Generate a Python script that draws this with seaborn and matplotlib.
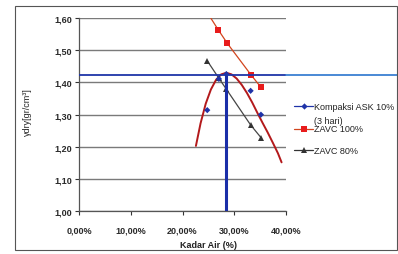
import matplotlib
matplotlib.use("Agg")
import matplotlib.pyplot as plt
import seaborn as sns
from matplotlib.lines import Line2D
from matplotlib.patches import Rectangle
from matplotlib.ticker import FuncFormatter

# data (kadar air in %, berat isi kering in gr/cm3)
ask_x = [24.8, 27.05, 28.5, 33.2, 35.2]
ask_y = [1.314, 1.411, 1.426, 1.374, 1.300]
zavc100_x = [24.8, 26.9, 28.7, 33.3, 35.2]
zavc100_y = [1.617, 1.564, 1.521, 1.423, 1.385]
zavc80_x = [24.8, 27.05, 28.5, 33.2, 35.2]
zavc80_y = [1.467, 1.413, 1.379, 1.268, 1.229]
# red compaction curve
kurva_x = [22.6, 23.5, 24.5, 25.5, 26.5, 27.5, 28.5, 29.5, 30.5, 31.5,
           32.5, 33.5, 34.5, 35.5, 36.5, 37.5, 38.5, 39.2]
kurva_y = [1.203, 1.273, 1.334, 1.378, 1.408, 1.425, 1.430, 1.425, 1.412,
           1.392, 1.367, 1.338, 1.306, 1.275, 1.245, 1.213, 1.180, 1.152]
w_opt = 28.4
gd_max = 1.423
x_ticks = [0, 10, 20, 30, 40]
y_ticks = [1.0, 1.1, 1.2, 1.3, 1.4, 1.5, 1.6]
labels = ["Kompaksi ASK 10%", "(3 hari)", "ZAVC 100%", "ZAVC 80%"]

sns.set_style("white")
plt.rcParams["font.family"] = ["Liberation Sans", "DejaVu Sans"]

W, H = 398, 255
fig = plt.figure(figsize=(W / 100, H / 100), dpi=100)
x0, x1, ytop, ybot = 79.3, 285.7, 19.0, 212.3
ax = fig.add_axes([x0 / W, 1 - ybot / H, (x1 - x0) / W, (ybot - ytop) / H])

ax.set_xlim(0, 40)
ax.set_ylim(1.0, 1.6)
ax.set_xticks(x_ticks)
ax.set_yticks(y_ticks)
ax.xaxis.set_major_formatter(FuncFormatter(lambda v, p: f"{v:.2f}%".replace(".", ",")))
ax.yaxis.set_major_formatter(FuncFormatter(lambda v, p: f"{v:.2f}".replace(".", ",")))
ax.tick_params(axis="both", labelsize=6.5, colors="#333333", length=3, width=0.8,
               direction="out", pad=2, bottom=True, left=True)
ax.tick_params(axis="x", pad=7)
for lbl in ax.get_xticklabels() + ax.get_yticklabels():
    lbl.set_fontweight("bold")
    lbl.set_color("#2a2a2a")
ax.yaxis.grid(True, color="#7a7a7a", lw=1.0)
ax.xaxis.grid(False)
for side in ["top", "right"]:
    ax.spines[side].set_visible(False)
for side in ["left", "bottom"]:
    ax.spines[side].set_color("#555555")
    ax.spines[side].set_linewidth(0.9)

# series
sns.lineplot(x=zavc100_x, y=zavc100_y, ax=ax, sort=False, color="#d2451e", lw=0.9,
             marker="s", markersize=4.5, markerfacecolor="#e81c1c", markeredgewidth=0,
             zorder=4)
sns.lineplot(x=zavc80_x, y=zavc80_y, ax=ax, sort=False, color="#454545", lw=0.9,
             marker="^", markersize=4.5, markerfacecolor="#333333", markeredgewidth=0,
             zorder=4)
sns.lineplot(x=kurva_x, y=kurva_y, ax=ax, sort=False, color="#b3191b", lw=1.4, zorder=3)
sns.scatterplot(x=ask_x, y=ask_y, ax=ax, marker="D", s=10, color="#1f33a8",
                edgecolor="none", zorder=5)

# optimum lines
ax.plot([w_opt, w_opt], [1.0, gd_max], color="#1a2ea8", lw=2.2, zorder=6,
        solid_capstyle="butt")
ax.plot([0, 40], [gd_max, gd_max], color="#1f35a8", lw=1.3, zorder=6)
ax.plot([40, 40 + (W - x1) / ((x1 - x0) / 40)], [gd_max, gd_max], color="#3c80d2",
        lw=1.3, clip_on=False, zorder=6)

ax.set_xlabel("")
ax.set_ylabel("")
fig.text(209 / W, 1 - 245.5 / H, "Kadar Air (%)", fontsize=6.5, color="#222222",
         ha="center", va="center", fontweight="bold")
fig.text(27 / W, 1 - 112 / H, "γdry[gr/cm³]", fontsize=6.5, color="#222222",
         rotation=90, ha="center", va="center")

# legend drawn by hand to follow the original layout
def legend_entry(y, marker, color, mcolor, ms):
    yy = 1 - y / H
    fig.add_artist(Line2D([294 / W, 303.5 / W, 313 / W], [yy, yy, yy],
                          transform=fig.transFigure, color=color, lw=0.9,
                          marker=marker, markevery=[1], markersize=ms,
                          markerfacecolor=mcolor, markeredgewidth=0))

legend_entry(107, "D", "#1f33a8", "#1f33a8", 3.2)
legend_entry(129.5, "s", "#d2451e", "#e81c1c", 4.2)
legend_entry(151, "^", "#333333", "#333333", 4.2)
for text, y in zip(labels, [107, 121.5, 129.5, 151]):
    fig.text(314 / W, 1 - y / H, text, fontsize=6.5, color="#222222", va="center")

fig.add_artist(Rectangle((15 / W, 1 - 251 / H), (397 - 15) / W, (251 - 7) / H,
                         transform=fig.transFigure, fill=False, edgecolor="#555555",
                         lw=0.8))

fig.savefig("out.png", dpi=100)
